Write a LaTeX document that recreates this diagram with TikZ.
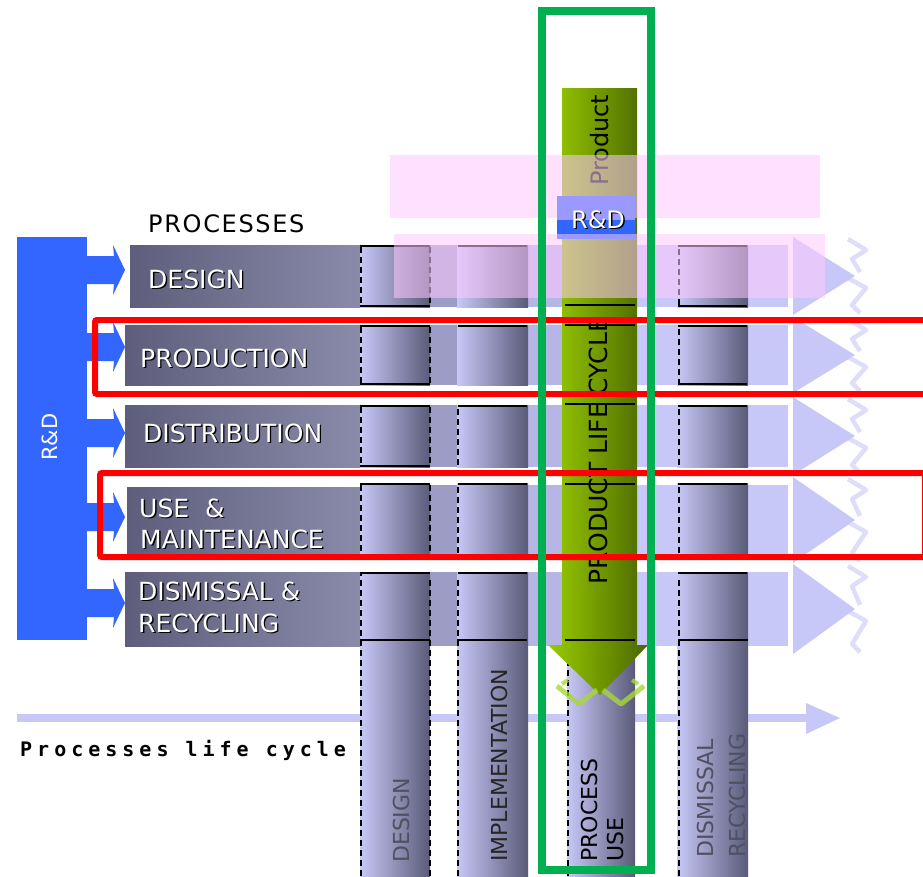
\documentclass[tikz,border=0pt]{standalone}
\usepackage{fontspec}
\setmainfont{DejaVu Sans}
\newfontfamily\monofnt[LetterSpace=25]{DejaVu Sans Mono}
\definecolor{rdblue}{HTML}{3366FF}
\definecolor{lav}{HTML}{C8C8F8}
\definecolor{lavgap}{HTML}{9C9CC6}
\definecolor{lavgapb}{HTML}{B6B6E6}
\definecolor{boxL}{HTML}{5E5E7C}
\definecolor{boxR}{HTML}{8A8AAA}
\definecolor{colL}{HTML}{C8C8F8}
\definecolor{colR}{HTML}{5A5A78}
\definecolor{grL}{HTML}{99CC00}
\definecolor{grR}{HTML}{4A6600}
\definecolor{grlight}{HTML}{A8D838}
\definecolor{pinkov}{HTML}{FFC8FF}
\definecolor{rdlight}{HTML}{9999FF}
\definecolor{annred}{HTML}{FF0000}
\definecolor{anngreen}{HTML}{00B050}
\definecolor{greytext}{HTML}{505062}
\newcommand\shtxt[1]{\makebox[0pt][l]{\kern1.3pt\raisebox{-1.3pt}{\color{black}#1}}#1}
\tikzset{
  proclabel/.style={anchor=base west, inner sep=0pt, text=white, font=\fontsize{25}{25}\selectfont},
  collabel/.style={rotate=90, anchor=base west, inner sep=0pt, font=\fontsize{22}{22}\selectfont},
  segline/.style={black, line width=1.6pt},
  segdash/.style={black, line width=2pt, dash pattern=on 6pt off 4pt},
  chev/.style={lav, line width=4.5pt, opacity=0.6, line join=round},
  annot/.style={line width=6pt, rounded corners=2pt}
}
\begin{document}
\begin{tikzpicture}[x=1pt,y=-1pt]
\useasboundingbox (0,0) rectangle (923,876);
\fill[white] (0,0) rectangle (923,876);

% processes life cycle arrow (behind columns)
\fill[lav] (17,714) rectangle (810,722);
\fill[lav] (806,703) -- (840,718) -- (806,734) -- cycle;
\node[anchor=base west, inner sep=0pt, font=\monofnt\bfseries\fontsize{20}{20}\selectfont] (plc) at (20,756) {Processes life cycle};

% row bodies with arrow heads and chevrons
\foreach \t/\b in {245/307,325/385,405/467,485/555,572/646}{
  \fill[lav] (362,\t) rectangle (788,\b);
  \fill[lavgap] (430,\t) rectangle (457,\b);
  \fill[lavgapb] (528,\t) rectangle (562,\b);
  \fill[lav] (793,\t-8) -- (855,{(\t+\b)/2}) -- (793,\b+8) -- cycle;
  \draw[chev] (848,\t-6) -- (866,\t+5) -- (852,\t+14) -- (860,{(\t+\b)/2-4});
  \draw[chev] (848,{(\t+\b)/2+2}) -- (866,{(\t+\b)/2+12}) -- (852,\b-2) -- (860,\b+6);
}

% process boxes
\foreach \t/\b/\l in {245/307/130,325/385/125,405/467/125,487/555/127,572/646/125}{
  \shade[left color=boxL, right color=boxR] (\l,\t) rectangle (362,\b);
}
\node[anchor=base west, inner sep=0pt, font=\fontsize{24}{24}\selectfont\addfontfeature{LetterSpace=7}] (proc) at (148,232) {PROCESSES};
\node[proclabel] (pdes) at (148,288) {\shtxt{DESIGN}};
\node[proclabel] (pprod) at (140,367) {\shtxt{PRODUCTION}};
\node[proclabel] (pdist) at (143,442) {\shtxt{DISTRIBUTION}};
\node[proclabel] (puse1) at (139,517) {\shtxt{USE\ \ \&}};
\node[proclabel] (puse2) at (140,548) {\shtxt{MAINTENANCE}};
\node[proclabel] (pdis1) at (138,600) {\shtxt{DISMISSAL \&}};
\node[proclabel] (pdis2) at (138,632) {\shtxt{RECYCLING}};

% R&D bar and arrows
\fill[rdblue] (17,237) rectangle (87,640);
\node[rotate=90, anchor=base west, inner sep=0pt, text=white, font=\fontsize{21}{21}\selectfont] (rdl) at (57,461) {R\&D};
\foreach \c in {270,347,433,517,603}{
  \fill[rdblue] (86,\c-14) -- (114,\c-14) -- (113,\c-25) -- (125,\c) -- (113,\c+25) -- (114,\c+14) -- (86,\c+14) -- cycle;
}

% column segments
\foreach \l/\r in {360/430,457/528,567/635,677/748}{
  \foreach \t/\b in {245/307,325/385,405/467,483/557,572/876}{
    \shade[left color=colL, right color=colR] (\l,\t) rectangle (\r,\b);
  }
}
% column lines
\foreach \t/\b in {245/307,325/385,405/467,483/557}{
  \draw[segline] (360,\t+1) -- (430,\t+1);
  \draw[segline] (360,\b-1) -- (430,\b-1);
  \draw[segdash] (361,\t+2) -- (361,\b-2);
  \draw[segdash] (430,\t+2) -- (430,\b-2);
  \draw[segline] (458,\t+1) -- (527,\t+1);
  \draw[segline] (678,\t+1) -- (747,\t+1);
  \draw[segdash] (679,\t+4) -- (679,\b-2);
}
\foreach \t/\b in {405/467,483/557}{\draw[segdash] (458,\t+4) -- (458,\b-2);}
\draw[segline] (678,384) -- (747,384);
\draw[segline] (678,306) -- (747,306);
% lower cylinders
\draw[segline] (361,576) -- (361,573) -- (430,573);
\draw[segdash] (361,580) -- (361,876);
\draw[segdash] (430,580) -- (430,876);
\draw[segline] (361,644) -- (361,640) -- (430,640);
\draw[segline] (458,573) -- (527,573);
\draw[segdash] (458,580) -- (458,876);
\draw[segline] (458,644) -- (458,640) -- (527,640);
\draw[segline] (678,573) -- (747,573);
\draw[segdash] (679,580) -- (679,876);
\draw[segline] (679,645) -- (679,640) -- (748,640);
\draw[segdash] (568,660) -- (568,876);

% green product arrow
\shade[left color=grL, right color=grR] (562,88) -- (637,88) -- (637,645) -- (648,645) -- (600,695) -- (548,645) -- (562,645) -- cycle;
\draw[grlight, line width=5pt, opacity=0.8, line join=round] (557,686) -- (579,704) -- (597,690);
\draw[grlight, line width=5pt, opacity=0.8, line join=round] (603,690) -- (621,704) -- (644,686);
\draw[grlight, line width=4pt, opacity=0.8] (562,684) -- (568,680);
\draw[grlight, line width=4pt, opacity=0.8] (638,684) -- (632,680);
\node[rotate=90, anchor=base west, inner sep=0pt, font=\fontsize{24}{24}\selectfont] (prodtop) at (608,186) {Product};
\node[rotate=90, anchor=base west, inner sep=0pt, font=\fontsize{25}{25}\selectfont] (plc2) at (607,585) {PRODUCT LIFE CYCLE};
\foreach \y in {305,325,404,484,640}{\draw[segline] (565,\y) -- (635,\y);}

% column labels
\node[collabel, text=greytext] (cdes) at (409,863) {DESIGN};
\node[collabel, text=black!85] (cimp) at (507,862) {IMPLEMENTATION};
\node[collabel, text=black] (cpro) at (597,862) {PROCESS};
\node[collabel, text=black] (cuse) at (623,862) {USE};
\node[collabel, text=greytext] (cdsm) at (713,858) {DISMISSAL};
\node[collabel, text=greytext] (crec) at (745,858) {RECYCLING};

% pink overlays
\fill[pinkov, opacity=0.55] (390,155) rectangle (820,218);
\fill[pinkov, opacity=0.55] (394,234) rectangle (825,298);

% small R&D box
\fill[rdlight] (557,196) rectangle (635,239);
\fill[rdblue] (557,220) rectangle (635,234);
\node[anchor=base, inner sep=0pt, text=white, font=\fontsize{24}{24}\selectfont] (rdsmall) at (598,228) {\shtxt{R\&D}};

% annotation frames
\draw[annot, annred] (95,320) rectangle (940,394);
\draw[annot, annred] (100,473) rectangle (925,557);
\draw[line width=8pt, anngreen] (542,11) rectangle (651,870);
\end{tikzpicture}
\end{document}
